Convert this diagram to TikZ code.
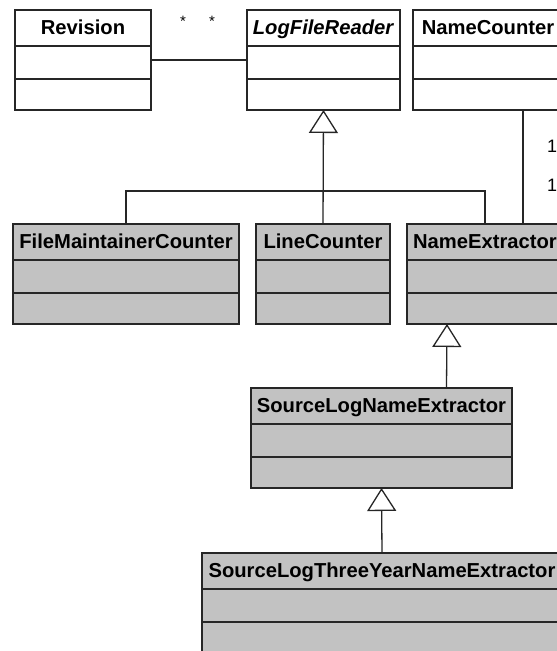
\documentclass[tikz,border=0pt]{standalone}
\usepackage{fontspec}
\setmainfont{Liberation Sans}
\usetikzlibrary{arrows.meta}

\begin{document}
\begin{tikzpicture}[
  x=1pt, y=1pt,
  classbox/.style={draw=black!85, line width=1.4pt, minimum height=100pt, anchor=north west, inner sep=0pt, outer sep=0pt},
  plain/.style={classbox, fill=white},
  derived/.style={classbox, fill=gray!48},
  divider/.style={draw=black!85, line width=1.4pt},
  title/.style={anchor=base, inner sep=0pt, font=\bfseries\fontsize{20.2}{23}\selectfont},
  link/.style={draw=black!85, line width=1.3pt},
  inherit/.style={link, -{Triangle[open, length=23pt, width=29pt]}},
  star/.style={inner sep=0pt, font=\fontsize{15}{17}\selectfont},
  mult/.style={anchor=base west, inner sep=0pt, font=\fontsize{18}{20}\selectfont}
]
\useasboundingbox (0,0) rectangle (557,651);
\clip (0,0) rectangle (557,651);
\fill[white] (0,0) rectangle (557,651);

\node[plain, minimum width=136pt] (revision) at (15,641) {};
\node[plain, minimum width=153pt] (reader) at (247,641) {};
\node[plain, minimum width=150pt] (namecounter) at (413,641) {};
\node[derived, minimum width=226pt] (maintainer) at (13,427) {};
\node[derived, minimum width=134pt] (linecounter) at (256,427) {};
\node[derived, minimum width=156pt] (extractor) at (407,427) {};
\node[derived, minimum width=261pt] (sourcelog) at (251,263) {};
\node[derived, minimum width=360pt] (threeyear) at (202,98) {};

\foreach \c in {revision,reader,namecounter,maintainer,linecounter,extractor,sourcelog,threeyear} {
  \draw[divider] ([yshift=-36pt]\c.north west) -- ([yshift=-36pt]\c.north east);
  \draw[divider] ([yshift=-69pt]\c.north west) -- ([yshift=-69pt]\c.north east);
}

\node[title] (revision-title) at ([yshift=-25pt]revision.north) {Revision};
\node[title] (reader-title) at ([yshift=-25pt]reader.north) {\textit{LogFileReader}};
\node[title] (namecounter-title) at ([yshift=-25pt]namecounter.north) {NameCounter};
\node[title] (maintainer-title) at ([yshift=-25pt]maintainer.north) {FileMaintainerCounter};
\node[title] (linecounter-title) at ([yshift=-25pt]linecounter.north) {LineCounter};
\node[title] (extractor-title) at ([yshift=-25pt]extractor.north) {NameExtractor};
\node[title] (sourcelog-title) at ([yshift=-25pt]sourcelog.north) {SourceLogNameExtractor};
\node[title] (threeyear-title) at ([yshift=-25pt]threeyear.north) {SourceLogThreeYearNameExtractor};

\draw[link] (revision.east) -- (reader.west);
\node[star] (star-a) at (183,630) {*};
\node[star] (star-b) at (212,630) {*};

\coordinate (bus) at (linecounter.north |- 0,460);
\draw[link] (maintainer.north) |- (bus) -| (extractor.north);
\draw[inherit] (linecounter.north) -- (reader.south);

\draw[link] ([xshift=35pt]namecounter.south) -- ([xshift=38pt]extractor.north);
\node[mult] (one-a) at (547,498) {1};
\node[mult] (one-b) at (547,459) {1};

\draw[inherit] ([xshift=65pt]sourcelog.north) -- ([xshift=-38pt]extractor.south);
\draw[inherit] (threeyear.north) -- (sourcelog.south);
\end{tikzpicture}
\end{document}
